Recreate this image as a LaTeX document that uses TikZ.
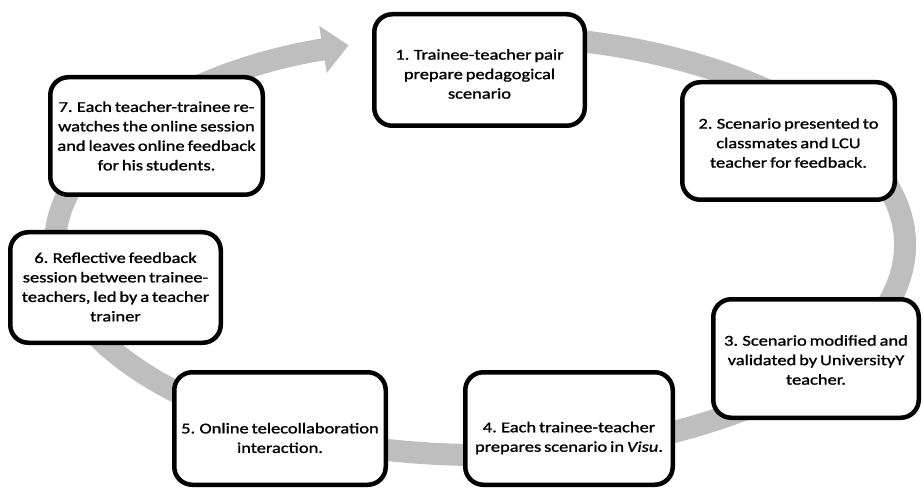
\documentclass[tikz,border=0pt]{standalone}
\usepackage{fontspec}
\setmainfont{Carlito}[FakeStretch=1.23,WordSpace=0.7,FakeBold=1.2]
\usetikzlibrary{arrows.meta}
\begin{document}
\begin{tikzpicture}[x=1pt,y=-1pt,
  stepbox/.style={draw=black,line width=4.5pt,rounded corners=18pt,fill=white},
  steptext/.style={align=center,font=\fontsize{15}{19.5}\selectfont,inner sep=0pt},
  ring/.style={draw=ringgray,line width=22pt,-{Triangle[length=26pt,width=46pt]}}]
\definecolor{ringgray}{RGB}{190,190,190}
\useasboundingbox (0,0) rectangle (924,489);
\fill[white] (0,0) rectangle (924,489);
% cycle ring
\coordinate (c) at (480,245);
\draw[ring] (c) ++(-80:425 and 210) arc[start angle=-80,end angle=252,x radius=425,y radius=210];
% boxes
\draw[stepbox] (374.25,14.25) rectangle (584.75,125.75) coordinate (b1);
\draw[stepbox] (682.25,82.25) rectangle (894.75,199.75) coordinate (b2);
\draw[stepbox] (713.25,299.25) rectangle (918.75,417.75) coordinate (b3);
\draw[stepbox] (465.25,372.25) rectangle (672.75,484.75) coordinate (b4);
\draw[stepbox] (174.25,372.25) rectangle (385.75,484.75) coordinate (b5);
\draw[stepbox] (10.25,232.25) rectangle (220.75,342.75) coordinate (b6);
\draw[stepbox] (50.25,77.25) rectangle (262.75,194.75) coordinate (b7);
% texts
\node[steptext] (t1) at (479.5,74) {1. Trainee-teacher pair\\prepare pedagogical\\scenario};
\node[steptext] (t2) at (788.5,143) {2. Scenario presented to\\classmates and LCU\\teacher for feedback.};
\node[steptext] (t3) at (816,360) {3. Scenario modified and\\validated by UniversityY\\teacher.};
\node[steptext] (t4) at (569,438) {4. Each trainee-teacher\\prepares scenario in \textit{Visu}.};
\node[steptext] (t5) at (280,438) {5. Online telecollaboration\\interaction.};
\node[steptext] (t6) at (115.5,287) {6. Reflective feedback\\session between trainee-\\teachers, led by a teacher\\trainer};
\node[steptext] (t7) at (156.5,136) {7. Each teacher-trainee re-\\watches the online session\\and leaves online feedback\\for his students.};
\end{tikzpicture}
\end{document}
